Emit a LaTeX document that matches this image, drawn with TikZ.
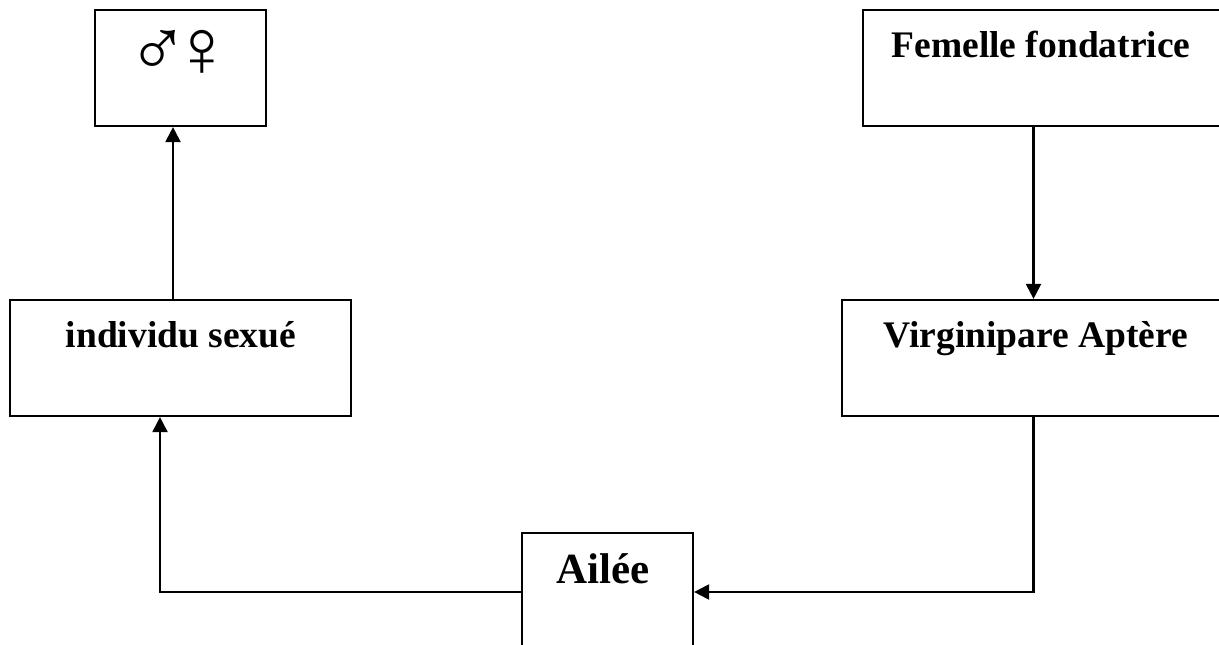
\documentclass[tikz,border=0pt]{standalone}
\usepackage{fontspec}
\setmainfont{Liberation Serif}
\newfontfamily\symfont{Liberation Sans}
\usetikzlibrary{arrows.meta}
\tikzset{
  box/.style={draw, line width=2.2pt, rectangle, inner sep=0pt},
  lbl/.style={anchor=base, inner sep=0pt, font=\bfseries\fontsize{37.5}{42}\selectfont},
  arr/.style={line width=2.2pt, -{Triangle[length=15pt,width=15pt]}}
}
\begin{document}
\begin{tikzpicture}[x=1pt,y=-1pt]
\useasboundingbox (0,0) rectangle (1219,645);
\clip (0,0) rectangle (1219,645);
\node[box, minimum width=171pt, minimum height=116pt] (sym) at (180.5,68) {};
\node[inner sep=0pt, font=\symfont\fontsize{82}{88}\selectfont] (symt) at (180,53) {♂\kern-17pt♀};
\node[box, minimum width=362pt, minimum height=116pt] (fem) at (1044,68) {};
\node[lbl] (femt) at (1041,57) {Femelle fondatrice};
\node[box, minimum width=341pt, minimum height=116pt] (ind) at (180.5,358) {};
\node[lbl] (indt) at (181,347) {individu sexué};
\node[box, minimum width=383pt, minimum height=116pt] (vir) at (1033.5,358) {};
\node[lbl] (virt) at (1036,347) {Virginipare Aptère};
\node[box, minimum width=171pt, minimum height=122pt] (ail) at (607.5,594) {};
\node[lbl, font=\bfseries\fontsize{43}{48}\selectfont] (ailt) at (603,583) {Ailée};
\draw[arr] (vir.north |- fem.south) -- (vir.north);
\draw[arr] (vir.south) |- ([yshift=2pt]ail.east);
\draw[arr] ([yshift=2pt]ail.west) -| ([xshift=-20.5pt]ind.south);
\draw[arr] ([xshift=-7.5pt]ind.north) -- ([xshift=-7.5pt]sym.south);
\end{tikzpicture}
\end{document}
